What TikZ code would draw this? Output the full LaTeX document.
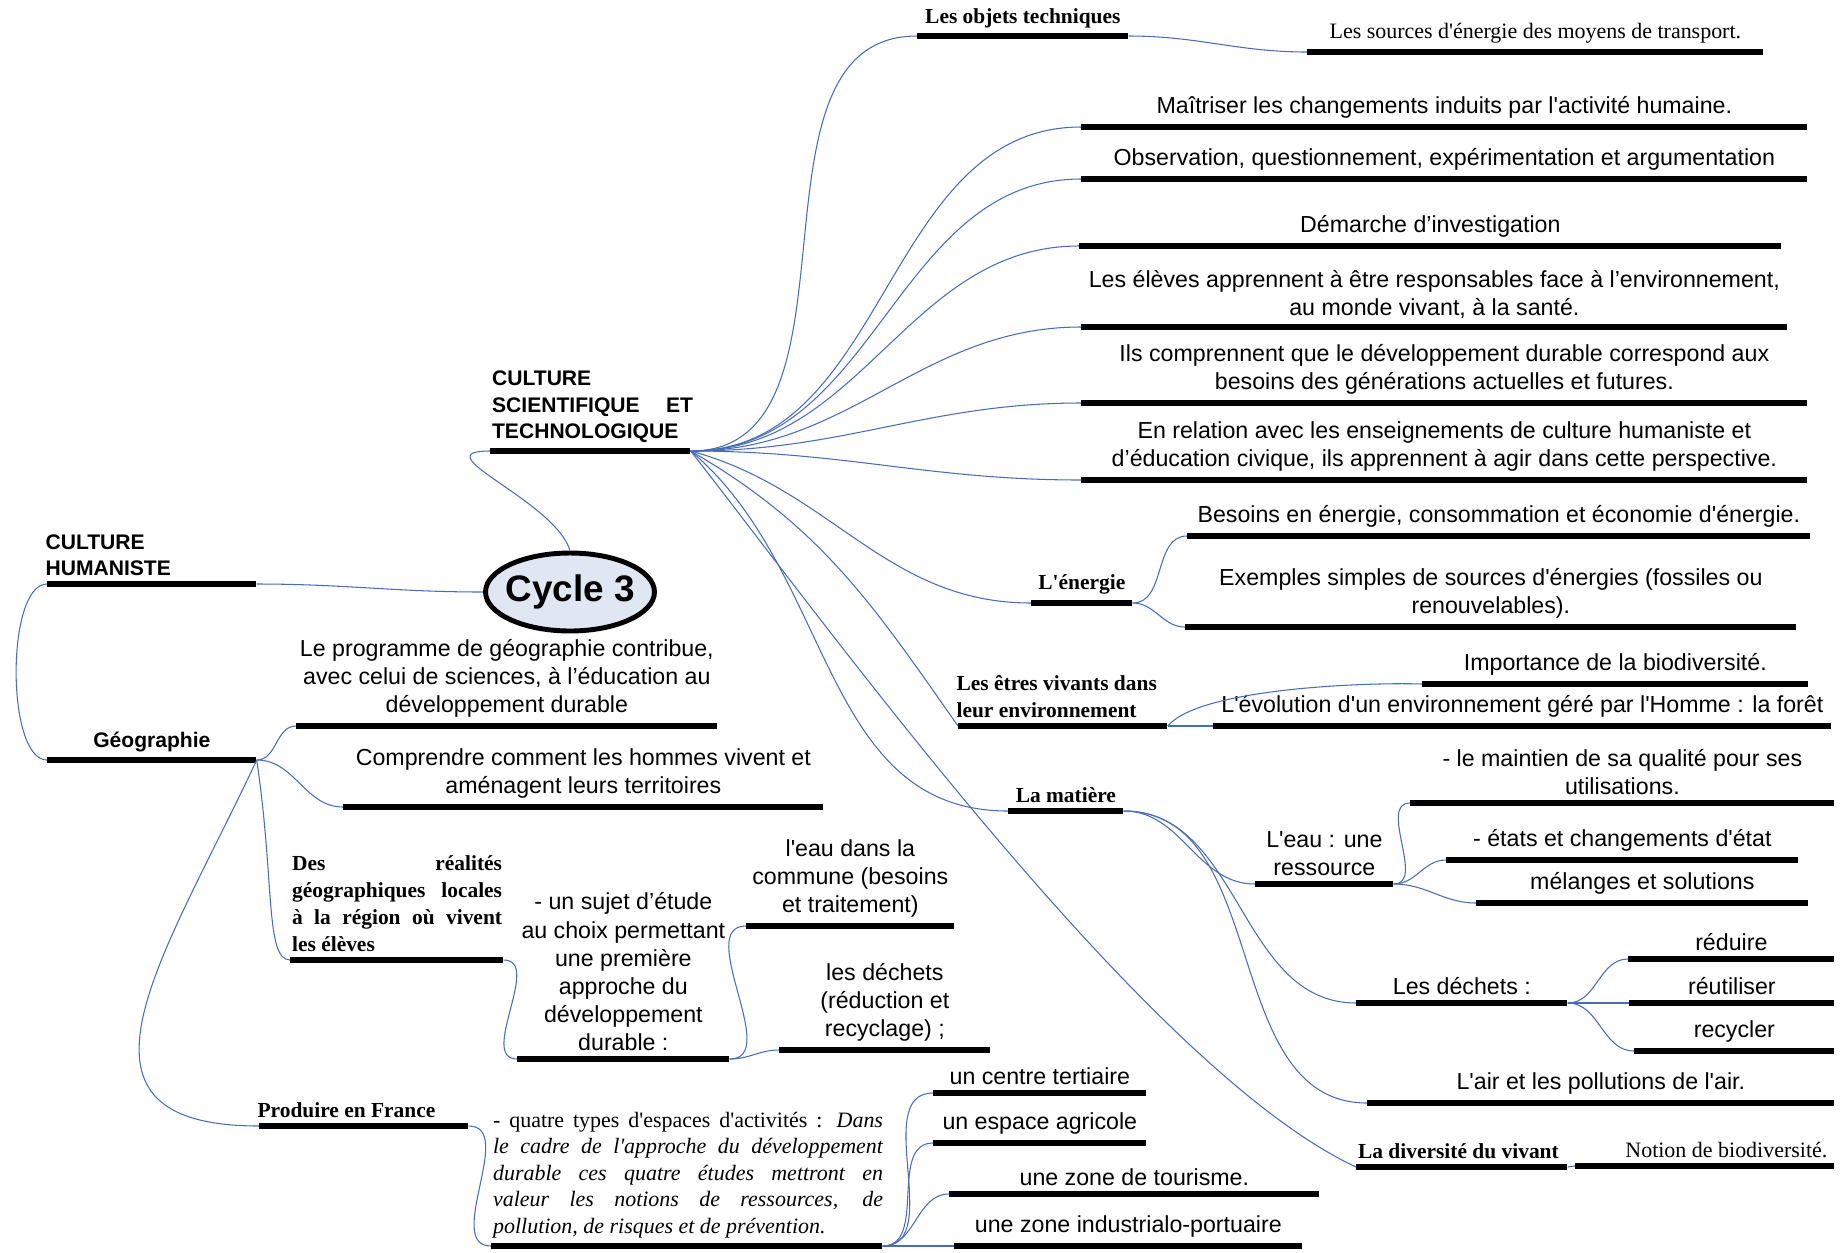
\documentclass[tikz,border=0pt]{standalone}
\usepackage{fontspec}
\setmainfont{Liberation Sans}
\newfontfamily\tms{Liberation Serif}
\usepackage{tikz}
\usetikzlibrary{positioning, shapes.geometric}
\definecolor{linkblue}{RGB}{72,108,184}
\definecolor{cyclefill}{RGB}{224,230,242}
\newcommand\sq{\textquotesingle}

\begin{document}
\begin{tikzpicture}[
      x=0.02cm, y=-0.02cm,
      bar/.style={fill=black, inner sep=0pt, minimum height=0.13cm,
                  anchor=west, minimum width=#1*0.02cm},
      lbl/.style={font=\fontsize{13.2}{16}\selectfont, align=center,
                  inner sep=1pt, above=1.5pt},
      lblhead/.style={font=\bfseries\fontsize{12}{15}\selectfont, align=left,
                  inner sep=1pt, above=1.5pt},
      lblser/.style={font=\tms\fontsize{12.5}{15}\selectfont, align=center,
                  inner sep=1pt, above=1.5pt},
      lblsb/.style={font=\tms\bfseries\fontsize{12.2}{15.4}\selectfont,
                  align=left, inner sep=1pt, above=1.5pt},
      link/.style={draw=linkblue, line width=0.6pt},
    ]
    \useasboundingbox (0,0) rectangle (1843,1252);

    % centre
    \node[ellipse, draw, line width=2.8pt, fill=cyclefill, inner sep=0pt,
          minimum width=3.38cm, minimum height=1.56cm,
          font=\bfseries\fontsize{21}{24}\selectfont] (cyc) at (570,592)
          {\makebox[2cm]{Cycle 3}};

    % bars (x of left end, y)
    \node[bar=200] (cst)   at (490,451)  {};
    \node[bar=209] (hum)   at (47,584)   {};
    \node[bar=209] (geo)   at (47,760)   {};
    \node[bar=421] (prog)  at (296,726)  {};
    \node[bar=480] (ccom)  at (343,807)  {};
    \node[bar=213] (real)  at (290,960)  {};
    \node[bar=212] (suj)   at (517,1059) {};
    \node[bar=208] (eauc)  at (746,926)  {};
    \node[bar=211] (dchc)  at (779,1050) {};
    \node[bar=209] (prod)  at (259,1126) {};
    \node[bar=391] (quat)  at (491,1246) {};
    \node[bar=213] (cent)  at (933,1093) {};
    \node[bar=213] (agri)  at (933,1143) {};
    \node[bar=370] (tour)  at (949,1194) {};
    \node[bar=348] (indu)  at (954,1246) {};

    \node[bar=211] (objt)  at (917,36)   {};
    \node[bar=456] (srcs)  at (1307,52)  {};
    \node[bar=726] (mait)  at (1081,127) {};
    \node[bar=726] (obs)   at (1081,179) {};
    \node[bar=702] (dema)  at (1079,246) {};
    \node[bar=706] (elev)  at (1081,327) {};
    \node[bar=726] (comp)  at (1081,403) {};
    \node[bar=726] (rela)  at (1081,480) {};
    \node[bar=101] (ener)  at (1031,603) {};
    \node[bar=623] (bes)   at (1187,536) {};
    \node[bar=611] (exe)   at (1185,627) {};
    \node[bar=209] (etre)  at (958,726)  {};
    \node[bar=386] (impo)  at (1422,684) {};
    \node[bar=618] (evo)   at (1213,726) {};
    \node[bar=115] (mat)   at (1008,811) {};
    \node[bar=138] (eau)   at (1255,884) {};
    \node[bar=424] (maint) at (1410,803) {};
    \node[bar=352] (etat)  at (1446,860) {};
    \node[bar=332] (mel)   at (1476,903) {};
    \node[bar=211] (dech)  at (1356,1003) {};
    \node[bar=206] (redu)  at (1628,959) {};
    \node[bar=205] (reut)  at (1629,1003) {};
    \node[bar=200] (recy)  at (1634,1051) {};
    \node[bar=467] (air)   at (1367,1103) {};
    \node[bar=211] (div)   at (1356,1167) {};
    \node[bar=259] (noti)  at (1575,1166) {};

    % labels
    \node[lblhead, anchor=south west] (cstT) at (cst.north west)
      {CULTURE\\SCIENTIFIQUE\hspace{1.25em}ET\\TECHNOLOGIQUE};
    \node[lblhead, anchor=south west] (humT) at ([xshift=-2pt]hum.north west)
      {CULTURE\\HUMANISTE};
    \node[lblhead, anchor=south] (geoT) at (geo.north) {Géographie};
    \node[lbl, anchor=south] (progT) at (prog.north)
      {Le programme de géographie contribue,\\avec celui de sciences, à l'éducation au\\développement durable};
    \node[lbl, anchor=south] (ccomT) at (ccom.north)
      {Comprendre comment les hommes vivent et\\aménagent leurs territoires};
    \node[lblsb, anchor=south west] (realT) at (real.north west)
      {\makebox[4.2cm][s]{Des réalités}\\\makebox[4.2cm][s]{géographiques locales}\\
       \makebox[4.2cm][s]{à la région où vivent}\\les élèves};
    \node[lbl, anchor=south] (sujT) at (suj.north)
      {- un sujet d'étude\\au choix permettant\\une première\\approche du\\développement\\durable :};
    \node[lbl, anchor=south] (eaucT) at (eauc.north)
      {l\sq eau dans la\\commune (besoins\\et traitement)};
    \node[lbl, anchor=south] (dchcT) at (dchc.north)
      {les déchets\\(réduction et\\recyclage) ;};
    \node[lblsb, anchor=south west] (prodT) at ([xshift=-2pt]prod.north west)
      {Produire en France};
    \node[lblser, align=left, anchor=south west] (quatT) at (quat.north west)
      {\makebox[7.8cm][s]{- quatre types d'espaces d'activités : \textit{Dans}}\\
       \makebox[7.8cm][s]{\itshape le cadre de l'approche du développement}\\
       \makebox[7.8cm][s]{\itshape durable ces quatre études mettront en}\\
       \makebox[7.8cm][s]{\itshape valeur les notions de ressources, de}\\
       \textit{pollution, de risques et de prévention.}};
    \node[lbl, anchor=south] (centT) at (cent.north) {un centre tertiaire};
    \node[lbl, anchor=south] (agriT) at (agri.north) {un espace agricole};
    \node[lbl, anchor=south] (tourT) at (tour.north) {une zone de tourisme.};
    \node[lbl, anchor=south] (induT) at (indu.north) {une zone industrialo-portuaire};

    \node[lblsb, anchor=south] (objtT) at (objt.north) {Les objets techniques};
    \node[lblser, anchor=south] (srcsT) at (srcs.north) {Les sources d'énergie des moyens de transport.};
    \node[lbl, anchor=south] (maitT) at (mait.north) {Maîtriser les changements induits par l\sq activité humaine.};
    \node[lbl, anchor=south] (obsT) at (obs.north) {Observation, questionnement, expérimentation et argumentation};
    \node[lbl, anchor=south] (demaT) at (dema.north) {Démarche d'investigation};
    \node[lbl, anchor=south] (elevT) at (elev.north)
      {Les élèves apprennent à être responsables face à l'environnement,\\au monde vivant, à la santé.};
    \node[lbl, anchor=south] (compT) at (comp.north)
      {Ils comprennent que le développement durable correspond aux\\besoins des générations actuelles et futures.};
    \node[lbl, anchor=south] (relaT) at (rela.north)
      {En relation avec les enseignements de culture humaniste et\\d'éducation civique, ils apprennent à agir dans cette perspective.};
    \node[lblsb, anchor=south] (enerT) at (ener.north) {L'énergie};
    \node[lbl, anchor=south] (besT) at (bes.north) {Besoins en énergie, consommation et économie d\sq énergie.};
    \node[lbl, anchor=south] (exeT) at (exe.north)
      {Exemples simples de sources d\sq énergies (fossiles ou\\renouvelables).};
    \node[lblsb, anchor=south west] (etreT) at ([xshift=-2pt]etre.north west)
      {Les êtres vivants dans\\leur environnement};
    \node[lbl, anchor=south] (impoT) at (impo.north) {Importance de la biodiversité.};
    \node[lbl, anchor=south] (evoT) at (evo.north) {L\sq évolution d\sq un environnement géré par l\sq Homme : la forêt};
    \node[lblsb, anchor=south] (matT) at (mat.north) {La matière};
    \node[lbl, anchor=south] (eauT) at (eau.north) {L\sq eau : une\\ressource};
    \node[lbl, anchor=south] (maintT) at (maint.north) {- le maintien de sa qualité pour ses\\utilisations.};
    \node[lbl, anchor=south] (etatT) at (etat.north) {- états et changements d\sq état};
    \node[lbl, anchor=south] (melT) at (mel.north) {mélanges et solutions};
    \node[lbl, anchor=south] (dechT) at (dech.north) {Les déchets :};
    \node[lbl, anchor=south] (reduT) at (redu.north) {réduire};
    \node[lbl, anchor=south] (reutT) at (reut.north) {réutiliser};
    \node[lbl, anchor=south] (recyT) at (recy.north) {recycler};
    \node[lbl, anchor=south] (airT) at (air.north) {L\sq air et les pollutions de l\sq air.};
    \node[lblsb, anchor=south west] (divT) at (div.north west) {La diversité du vivant};
    \node[lblser, anchor=south east] (notiT) at ([xshift=-3pt]noti.north east) {Notion de biodiversité.};

    % connectors
    \draw[link] (cyc.north) .. controls +(-15,-50) and +(-70,0) .. (cst.west);
    \draw[link] (cyc.west) to[out=180, in=0] (hum.east);
    \draw[link] (hum.west) to[out=180, in=180, looseness=0.6] (geo.west);
    \draw[link] (geo.east) to[out=0, in=180] (prog.west);
    \draw[link] (geo.east) to[out=0, in=180] (ccom.west);
    \draw[link] (geo.east) .. controls +(18,120) and +(-25,0) .. (real.west);
    \draw[link] (geo.east) to[out=-115, in=180, looseness=1.5] (prod.west);
    \draw[link] (real.east) to[out=0, in=180] (suj.west);
    \draw[link] (suj.east) to[out=0, in=180] (eauc.west);
    \draw[link] (suj.east) to[out=0, in=180] (dchc.west);
    \draw[link] (prod.east) to[out=0, in=180] (quat.west);
    \foreach \n in {cent,agri,tour,indu}
      \draw[link] (quat.east) to[out=0, in=180] (\n.west);

    \foreach \n in {objt,mait,obs,dema,elev,comp,rela}
      \draw[link] (cst.east) to[out=0, in=180] (\n.west);
    \draw[link] (cst.east) to[out=-15, in=180] (ener.west);
    \draw[link] (cst.east) to[out=-30, in=125] (etre.west);
    \draw[link] (cst.east) to[out=-40, in=180] (mat.west);
    \draw[link] (cst.east) to[out=-52, in=155, looseness=0.6] (div.west);
    \draw[link] (objt.east) to[out=0, in=180] (srcs.west);
    \draw[link] (ener.east) to[out=0, in=180] (bes.west);
    \draw[link] (ener.east) to[out=0, in=180] (exe.west);
    \draw[link] (etre.east) to[out=50, in=178, looseness=0.5] (impo.west);
    \draw[link] (etre.east) to[out=0, in=180] (evo.west);
    \foreach \n in {eau,dech,air}
      \draw[link] (mat.east) to[out=0, in=180] (\n.west);
    \foreach \n in {maint,etat,mel}
      \draw[link] (eau.east) to[out=0, in=180] (\n.west);
    \foreach \n in {redu,reut,recy}
      \draw[link] (dech.east) to[out=0, in=180] (\n.west);
    \draw[link] (div.east) to[out=0, in=180] (noti.west);
  \end{tikzpicture}
\end{document}
